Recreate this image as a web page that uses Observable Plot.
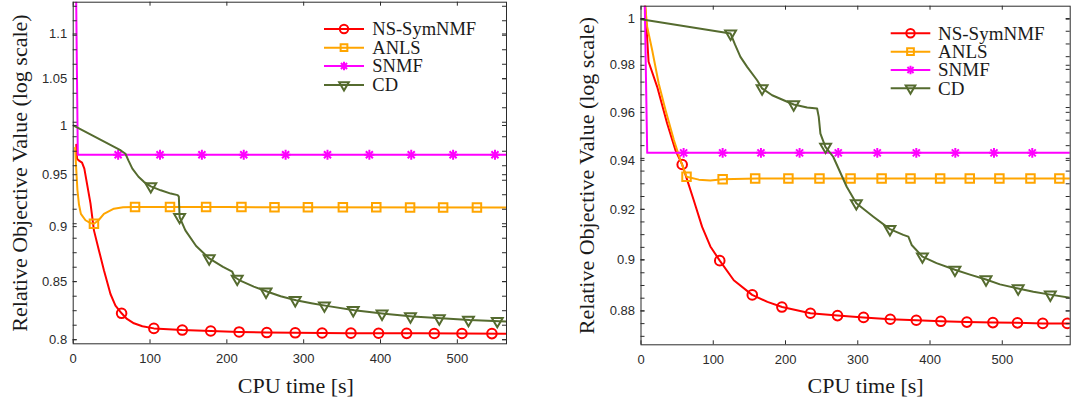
<!DOCTYPE html>
<html><head><meta charset="utf-8">
<script src="https://cdn.jsdelivr.net/npm/d3@7"></script>
<script src="https://cdn.jsdelivr.net/npm/@observablehq/plot@0.6"></script>
<style>
html,body{margin:0;padding:0;background:#fff;}
#wrap{position:relative;width:1073px;height:403px;overflow:hidden;background:#fff;}
#left{position:absolute;left:0;top:0;}
#right{position:absolute;left:540px;top:0;}
svg{overflow:visible;}
</style></head><body>
<div id="wrap"><div id="left"></div><div id="right"></div></div>
<script>
// ---------- shared labels ----------
const seriesNames = ["NS-SymNMF", "ANLS", "SNMF", "CD"];
const xTitle = "CPU time [s]";
const yTitle = "Relative Objective Value (log scale)";
const xTickValues = [0, 100, 200, 300, 400, 500];

// ---------- left panel ----------
const leftXDomain = [0, 564];
const leftYDomain = [0.7966, 1.137];
const leftYTickLabels = [0.8, 0.85, 0.9, 0.95, 1, 1.05, 1.1];

const leftNsLine = [[4,0.98],[5,0.966],[7.5,0.964],[11.5,0.962],[14.5,0.956],[18,0.941],[22.5,0.922],[27,0.8965],[33.5,0.878],[40,0.86],[48.5,0.839],[55,0.829],[63,0.8223],[70,0.8175],[79,0.8138],[90,0.8113],[105,0.8095],[142,0.8081],[179,0.8073],[216,0.8065],[252,0.806],[289,0.8058],[360,0.8055],[450,0.8053],[564,0.805]];
const leftNsMarks = [[63,0.8223],[105,0.8095],[142,0.8081],[179,0.8073],[216,0.8065],[252,0.806],[289,0.8058],[324,0.8056],[361.5,0.8055],[397.5,0.8054],[434,0.8053],[470,0.8052],[506,0.8052],[545,0.8051]];

const leftAnlsLine = [[2.5,0.977],[4,0.955],[5.5,0.935],[7.5,0.921],[10,0.912],[16,0.906],[22,0.9035],[27,0.9027],[33,0.906],[40,0.912],[53,0.917],[65,0.9183],[80,0.9186],[200,0.9185],[564,0.918]];
const leftAnlsMarks = [[27,0.9027],[80.5,0.9186],[126,0.9186],[173,0.9185],[219,0.9185],[262,0.9184],[305.5,0.9184],[351,0.9183],[394.5,0.9183],[438.5,0.9182],[481.5,0.9182],[525.5,0.9181]];

const leftSnmfLine = [[3.2,1.2],[6,0.97],[564,0.97]];
const leftSnmfMarks = [[58.5,0.97],[113,0.97],[167.5,0.97],[222,0.97],[276.5,0.97],[331,0.97],[385.5,0.97],[440,0.97],[494.5,0.97],[549,0.97]];

const leftCdLine = [[0,1.0],[62,0.9743],[68,0.971],[72,0.964],[77,0.956],[85,0.948],[92,0.943],[101,0.9386],[114,0.9347],[127,0.9315],[136,0.93],[137.5,0.9285],[138.5,0.909],[146,0.8965],[160,0.882],[177,0.8707],[195,0.863],[207,0.8587],[210,0.854],[216,0.8513],[235,0.8455],[253,0.841],[270,0.837],[290,0.8335],[310,0.831],[330,0.8287],[366,0.8249],[405,0.822],[442,0.8195],[479,0.818],[516,0.8165],[555,0.8156],[564,0.8152]];
const leftCdMarks = [[101,0.9386],[138.5,0.909],[177,0.8707],[213.5,0.8524],[251,0.841],[289,0.8336],[327,0.829],[364.5,0.825],[402,0.822],[439,0.8197],[476.5,0.818],[514.5,0.8166],[552,0.8157]];

// ---------- right panel ----------
const rightXDomain = [0, 594];
const rightYDomain = [0.86703, 1.0057];
const rightYTickLabels = [0.88, 0.9, 0.92, 0.94, 0.96, 0.98, 1];

const rightNsLine = [[5,1.01],[10.5,0.9815],[22.4,0.9708],[36.2,0.9553],[47.7,0.9442],[57,0.9383],[65,0.931],[73,0.9237],[84.6,0.913],[96,0.9052],[109,0.8996],[128.4,0.8919],[153.8,0.8862],[175,0.8835],[195.3,0.8815],[234.4,0.8791],[272,0.8782],[308,0.8775],[345,0.8768],[381,0.8764],[415,0.876],[451,0.8757],[487,0.8755],[521,0.8754],[556,0.8752],[594,0.8752]];
const rightNsMarks = [[57,0.9383],[109,0.8996],[154,0.8862],[195,0.8815],[234.5,0.8791],[272,0.8782],[308,0.8775],[345,0.8768],[381,0.8764],[415,0.876],[451,0.8757],[487,0.8755],[521,0.8754],[556,0.8752],[590,0.8752]];

const rightAnlsLine = [[4.5,1.01],[8.6,0.9966],[15.5,0.9865],[24.5,0.9722],[34,0.9609],[45.5,0.9484],[54.5,0.9401],[63,0.9333],[80,0.9321],[96,0.9318],[113,0.9323],[160,0.9326],[594,0.9326]];
const rightAnlsMarks = [[63,0.9333],[113,0.9323],[158,0.9326],[204,0.9326],[247,0.9326],[290,0.9326],[333,0.9326],[373,0.9326],[414,0.9326],[455,0.9326],[496,0.9326],[539,0.9326],[579,0.9326]];

const rightSnmfLine = [[3,1.05],[8.6,0.9431],[594,0.9431]];
const rightSnmfMarks = [[59,0.9431],[113,0.9431],[166,0.9431],[219.5,0.9431],[273,0.9431],[327,0.9431],[381,0.9431],[435,0.9431],[488.5,0.9431],[541.5,0.9431]];

const rightCdLine = [[0,1.0],[124,0.9937],[130,0.989],[137.6,0.9836],[146.9,0.9793],[160.7,0.9736],[167.6,0.9701],[181.5,0.9672],[197.5,0.9651],[211.3,0.9633],[229.9,0.962],[243.7,0.9616],[246,0.9581],[248.3,0.9511],[255.2,0.9456],[266,0.9415],[284.7,0.9292],[298,0.9225],[321.6,0.9171],[344.5,0.9121],[363,0.9098],[370,0.9091],[374.6,0.9058],[389.5,0.9012],[409,0.8986],[434.5,0.896],[455.3,0.8941],[477.5,0.8922],[496.8,0.8903],[522,0.8887],[543,0.8874],[566.5,0.8863],[594,0.8851]];
const rightCdMarks = [[124,0.9937],[167.6,0.9701],[211.3,0.9633],[255.5,0.9456],[298,0.9225],[344.5,0.9121],[389.5,0.9012],[434.5,0.896],[477.5,0.8922],[522,0.8887],[566.5,0.8863]];

// ---------- styles ----------
const colors = ["#ff0000", "#ffa500", "#ff00ff", "#556b2f"];
const triangleDown = {
  draw(ctx, size) {
    const s = Math.sqrt(size) * 0.6824, t = s / 2, u = s * Math.sqrt(3) / 2;
    ctx.moveTo(0, s); ctx.lineTo(u, -t); ctx.lineTo(-u, -t); ctx.closePath();
  }
};
const symbolSets = [
  {plot: ["circle"], d3: [d3.symbolCircle], r: 4.8, lr: 4.2},
  {plot: ["square"], d3: [d3.symbolSquare], r: 4.8, lr: 3.8},
  {plot: ["plus", "times"], d3: [d3.symbolPlus, d3.symbolTimes], r: 3.3, lr: 2.9},
  {plot: [triangleDown], d3: [triangleDown], r: 5.2, lr: 4.6}
];

function minorTicks(domain, anchor, step) {
  const out = [];
  const lo = Math.log(domain[0]), hi = Math.log(domain[1]), a = Math.log(anchor);
  for (let k = -200; k <= 200; k++) {
    const v = a + k * step;
    if (v >= lo && v <= hi) out.push(Math.exp(v));
  }
  return out;
}

function panel(cfg) {
  const fw = cfg.width - cfg.ml - cfg.mr;
  const fh = cfg.height - cfg.mt - cfg.mb;
  const ink = "#2b2b2b";
  const marks = [];
  cfg.series.forEach((s, i) => {
    marks.push(Plot.line(s.line, {x: d => d[0], y: d => d[1], stroke: colors[i], strokeWidth: 2, clip: true}));
    symbolSets[i].plot.forEach(sym => {
      marks.push(Plot.dot(s.marks, {x: d => d[0], y: d => d[1], symbol: sym, r: symbolSets[i].r, stroke: colors[i], strokeWidth: 2, fill: "none", clip: true}));
    });
  });
  const minor = minorTicks(cfg.yDomain, cfg.minorAnchor, cfg.minorStep);
  const allY = minor.concat(cfg.yLabels);
  marks.push(
    Plot.tickY(allY, {y: d => d, insetRight: fw - 4, stroke: ink, strokeWidth: 1}),
    Plot.tickY(allY, {y: d => d, insetLeft: fw - 4, stroke: ink, strokeWidth: 1}),
    Plot.tickX(xTickValues, {x: d => d, insetTop: fh - 4, stroke: ink, strokeWidth: 1}),
    Plot.tickX(xTickValues, {x: d => d, insetBottom: fh - 4, stroke: ink, strokeWidth: 1}),
    Plot.frame({stroke: ink, strokeWidth: 1}),
    Plot.text(cfg.yLabels, {y: d => d, text: d => String(d), frameAnchor: "left", dx: -6, textAnchor: "end", lineAnchor: "middle", fontSize: 13, fill: ink}),
    Plot.axisX(xTickValues, {anchor: "bottom", tickSize: 0, tickPadding: 10, tickFormat: d => String(d), label: null, fontSize: 13, fill: ink}),
    Plot.text([yTitle], {text: d => d, frameAnchor: "left", dx: cfg.yTitleDx, rotate: -90, textAnchor: "middle", lineAnchor: "middle", fontFamily: "Liberation Serif", fontSize: 22, fill: "#1a1a1a"}),
    Plot.text([xTitle], {text: d => d, frameAnchor: "bottom", dx: cfg.xTitleDx, dy: cfg.xTitleDy, textAnchor: "middle", lineAnchor: "bottom", fontFamily: "Liberation Serif", fontSize: 22, fill: "#1a1a1a"})
  );
  const svg = Plot.plot({
    width: cfg.width, height: cfg.height,
    marginLeft: cfg.ml, marginRight: cfg.mr, marginTop: cfg.mt, marginBottom: cfg.mb,
    style: {background: "white", fontFamily: "'Liberation Sans', Arial, sans-serif", fontSize: "13px", color: ink, overflow: "visible"},
    x: {domain: cfg.xDomain, axis: null},
    y: {type: "log", domain: cfg.yDomain, axis: null},
    marks
  });
  // legend
  const g = d3.select(svg).append("g").attr("class", "legend");
  const L = cfg.legend;
  seriesNames.forEach((name, i) => {
    const y = L.rows[i];
    g.append("line").attr("x1", L.x0).attr("x2", L.x1).attr("y1", y).attr("y2", y)
      .attr("stroke", colors[i]).attr("stroke-width", 2);
    symbolSets[i].d3.forEach(type => {
      g.append("path").attr("d", d3.symbol(type, Math.PI * symbolSets[i].lr * symbolSets[i].lr)())
        .attr("transform", `translate(${(L.x0 + L.x1) / 2},${y})`)
        .attr("fill", "none").attr("stroke", colors[i]).attr("stroke-width", 2);
    });
    g.append("text").attr("x", L.xt).attr("y", y + L.fs * 0.34).text(name)
      .attr("text-anchor", "start")
      .attr("font-family", "Liberation Serif").attr("font-size", L.fs).attr("fill", "#1a1a1a");
  });
  return svg;
}

document.getElementById("left").appendChild(panel({
  width: 540, height: 403, ml: 72.7, mr: 34, mt: 1.7, mb: 59.7,
  xDomain: leftXDomain, yDomain: leftYDomain, yLabels: leftYTickLabels,
  minorAnchor: 0.8, minorStep: 0.0151,
  yTitleDx: -53, xTitleDx: 6, xTitleDy: 48.7,
  series: [
    {line: leftNsLine, marks: leftNsMarks},
    {line: leftAnlsLine, marks: leftAnlsMarks},
    {line: leftSnmfLine, marks: leftSnmfMarks},
    {line: leftCdLine, marks: leftCdMarks}
  ],
  legend: {x0: 324, x1: 364, xt: 372.3, rows: [29, 47.7, 66, 85], fs: 18.5}
}));

document.getElementById("right").appendChild(panel({
  width: 533, height: 403, ml: 100.5, mr: 3.3, mt: 5.7, mb: 58.7,
  xDomain: rightXDomain, yDomain: rightYDomain, yLabels: rightYTickLabels,
  minorAnchor: 0.88, minorStep: 0.00557,
  yTitleDx: -54.5, xTitleDx: 10, xTitleDy: 47.7,
  series: [
    {line: rightNsLine, marks: rightNsMarks},
    {line: rightAnlsLine, marks: rightAnlsMarks},
    {line: rightSnmfLine, marks: rightSnmfMarks},
    {line: rightCdLine, marks: rightCdMarks}
  ],
  legend: {x0: 350.7, x1: 390.3, xt: 398, rows: [33.3, 51.7, 70, 88.3], fs: 19}
}));
</script>
</body></html>
